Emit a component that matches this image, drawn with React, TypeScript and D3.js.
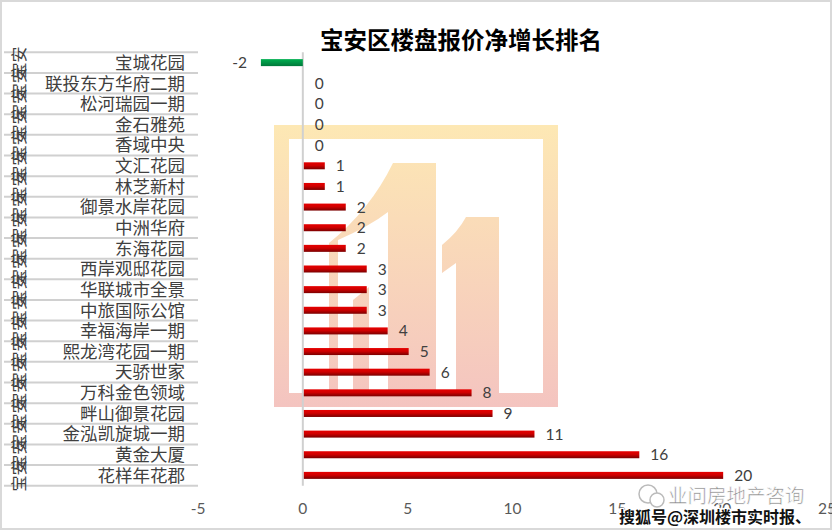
import { useEffect, useRef } from "react";
import * as d3 from "d3";

const categories = [
  "宝城花园",
  "联投东方华府二期",
  "松河瑞园一期",
  "金石雅苑",
  "香域中央",
  "文汇花园",
  "林芝新村",
  "御景水岸花园",
  "中洲华府",
  "东海花园",
  "西岸观邸花园",
  "华联城市全景",
  "中旅国际公馆",
  "幸福海岸一期",
  "熙龙湾花园一期",
  "天骄世家",
  "万科金色领域",
  "畔山御景花园",
  "金泓凯旋城一期",
  "黄金大厦",
  "花样年花郡",
];
const values = [-2, 0, 0, 0, 0, 1, 1, 2, 2, 2, 3, 3, 3, 4, 5, 6, 8, 9, 11, 16, 20];
const xTicks = [-5, 0, 5, 10, 15, 20, 25];
const regionLabel = "宝安";
const title = "宝安区楼盘报价净增长排名";

const CJK = "'Noto Sans CJK SC', sans-serif";
const NUM = "Lato, 'Liberation Sans', sans-serif";

function App() {
  const ref = useRef<HTMLDivElement>(null);

  useEffect(() => {
    const container = d3.select(ref.current);
    container.selectAll("*").remove();

    const width = 832;
    const height = 532;
    const plot = { left: 198, right: 827, top: 52.3, bottom: 485.7 };

    const svg = container
      .append("svg")
      .attr("width", width)
      .attr("height", height)
      .style("position", "absolute")
      .style("left", "0px")
      .style("top", "0px")
      .style("background", "#fff");

    const defs = svg.append("defs");
    const red = defs
      .append("linearGradient")
      .attr("id", "redBar")
      .attr("x1", 0)
      .attr("y1", 0)
      .attr("x2", 0)
      .attr("y2", 1);
    red.append("stop").attr("offset", "0%").attr("stop-color", "#e60000");
    red.append("stop").attr("offset", "45%").attr("stop-color", "#d00000");
    red.append("stop").attr("offset", "100%").attr("stop-color", "#7a0000");
    const green = defs
      .append("linearGradient")
      .attr("id", "greenBar")
      .attr("x1", 0)
      .attr("y1", 0)
      .attr("x2", 0)
      .attr("y2", 1);
    green.append("stop").attr("offset", "0%").attr("stop-color", "#00b050");
    green.append("stop").attr("offset", "100%").attr("stop-color", "#00783a");
    const wm = defs
      .append("linearGradient")
      .attr("id", "wm")
      .attr("gradientUnits", "userSpaceOnUse")
      .attr("x1", 0)
      .attr("y1", 125)
      .attr("x2", 0)
      .attr("y2", 407);
    wm.append("stop").attr("offset", "0%").attr("stop-color", "#fde8b4");
    wm.append("stop").attr("offset", "100%").attr("stop-color", "#f4c4c0");

    // border
    svg
      .append("rect")
      .attr("x", 1)
      .attr("y", 1)
      .attr("width", width - 2)
      .attr("height", height - 4)
      .attr("fill", "none")
      .attr("stroke", "#d9d9d9")
      .attr("stroke-width", 2);

    // watermark logo
    const logo = svg.append("g").attr("fill", "url(#wm)");
    logo
      .append("path")
      .attr("fill-rule", "evenodd")
      .attr("d", "M274,125H558V407H274Z M289,139V393H543V139Z");
    logo
      .append("path")
      .attr(
        "d",
        "M393,163H436V407H388V212Q370,226 338,240V407H329V243Q370,210 393,163Z"
      );
    logo.append("path").attr("d", "M353,300L369,287V407H353Z");
    logo.append("path").attr("d", "M466,217H499V407H456V263L442,273V245Q458,232 466,217Z");

    const x = d3.scaleLinear().domain([-5, 25]).range([plot.left, plot.right]);
    const y = d3
      .scaleBand()
      .domain(categories)
      .range([plot.top, plot.bottom]);

    // category separator lines
    const bounds = categories.map((c) => y(c) as number).concat([plot.bottom]);
    svg
      .append("g")
      .selectAll("line")
      .data(bounds)
      .enter()
      .append("line")
      .attr("x1", 4)
      .attr("x2", plot.left)
      .attr("y1", (d) => d)
      .attr("y2", (d) => d)
      .attr("stroke", "#d0d0d0")
      .attr("stroke-width", 2);

    // outer region labels
    svg
      .append("g")
      .selectAll("text")
      .data(categories)
      .enter()
      .append("text")
      .attr(
        "transform",
        (d) => `translate(19,${(y(d) as number) + y.bandwidth() / 2}) rotate(-90)`
      )
      .attr("text-anchor", "middle")
      .attr("dy", "0.35em")
      .attr("fill", "#404040")
      .style("font-family", CJK)
      .style("font-size", "16px")
      .text(regionLabel);

    // category labels
    svg
      .append("g")
      .selectAll("text")
      .data(categories)
      .enter()
      .append("text")
      .attr("x", 185)
      .attr("y", (d) => (y(d) as number) + y.bandwidth() / 2)
      .attr("dy", "0.36em")
      .attr("text-anchor", "end")
      .attr("fill", "#404040")
      .style("font-family", CJK)
      .style("font-size", "17.5px")
      .text((d) => d);

    // vertical axis line
    svg
      .append("line")
      .attr("x1", x(0))
      .attr("x2", x(0))
      .attr("y1", plot.top)
      .attr("y2", plot.bottom)
      .attr("stroke", "#d0d0d0")
      .attr("stroke-width", 2);

    const barH = 7;
    svg
      .append("g")
      .selectAll("rect")
      .data(values)
      .enter()
      .append("rect")
      .attr("x", (d) => Math.min(x(0), x(d)) + (d > 0 ? 1 : 0))
      .attr("y", (d, i) => (y(categories[i]) as number) + y.bandwidth() / 2 - barH / 2)
      .attr("width", (d) => Math.abs(x(d) - x(0)))
      .attr("height", barH)
      .attr("fill", (d) => (d < 0 ? "url(#greenBar)" : "url(#redBar)"));

    // value labels
    svg
      .append("g")
      .selectAll("text")
      .data(values)
      .enter()
      .append("text")
      .attr("x", (d) => (d < 0 ? x(d) - 14 : x(d) + 12))
      .attr("y", (d, i) => (y(categories[i]) as number) + y.bandwidth() / 2)
      .attr("dy", "0.36em")
      .attr("text-anchor", (d) => (d < 0 ? "end" : "start"))
      .attr("fill", "#404040")
      .style("font-family", NUM)
      .style("font-size", "15.5px")
      .text((d) => d);

    // x tick labels
    svg
      .append("g")
      .selectAll("text")
      .data(xTicks)
      .enter()
      .append("text")
      .attr("x", (d) => x(d))
      .attr("y", 514)
      .attr("text-anchor", "middle")
      .attr("fill", "#595959")
      .style("font-family", NUM)
      .style("font-size", "15.5px")
      .text((d) => d);

    // title
    svg
      .append("text")
      .attr("x", 461)
      .attr("y", 49)
      .attr("text-anchor", "middle")
      .attr("fill", "#000")
      .style("font-family", CJK)
      .style("font-weight", "bold")
      .style("font-size", "23.5px")
      .text(title);

    // bottom-right credits
    const credit = svg.append("g");
    credit
      .append("circle")
      .attr("cx", 648)
      .attr("cy", 494)
      .attr("r", 9)
      .attr("fill", "none")
      .attr("stroke", "#bbb")
      .attr("stroke-width", 1.5);
    credit
      .append("circle")
      .attr("cx", 657)
      .attr("cy", 500)
      .attr("r", 7)
      .attr("fill", "#fff")
      .attr("stroke", "#bbb")
      .attr("stroke-width", 1.5);
    credit
      .append("text")
      .attr("x", 668)
      .attr("y", 503)
      .attr("fill", "#8a8a8a")
      .attr("stroke", "#fff")
      .attr("stroke-width", 0.6)
      .style("font-family", CJK)
      .style("font-size", "19.5px")
      .text("业问房地产咨询");
    credit
      .append("text")
      .attr("x", 619)
      .attr("y", 523)
      .attr("fill", "#111")
      .attr("stroke", "#fff")
      .attr("stroke-width", 2.5)
      .attr("paint-order", "stroke")
      .style("font-family", CJK)
      .style("font-weight", "bold")
      .style("font-size", "16px")
      .text("搜狐号@深圳楼市实时报、");
  }, []);

  return <div ref={ref} />;
}

export default App;
